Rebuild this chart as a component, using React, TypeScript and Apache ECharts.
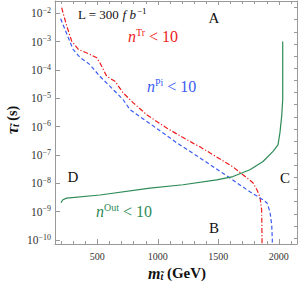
import React, { useEffect, useRef } from "react";
import * as echarts from "echarts";

const FONT = '"Liberation Serif", "Times New Roman", serif';

// axis ticks
const xMajorTicks = [500, 1000, 1500, 2000];
const xMinorTicks = [200, 300, 400, 600, 700, 800, 900, 1100, 1200, 1300, 1400, 1600, 1700, 1800, 1900, 2100];
const yDecades = [-10, -9, -8, -7, -6, -5, -4, -3, -2];

// n^Tr < 10 (red, dash-dot): stop mass (GeV), log10(tau / s)
const massTr = [205, 247, 288, 343, 439, 495, 522, 577, 646, 712, 795, 908, 1073, 1290, 1348, 1621, 1737, 1786, 1819, 1844, 1858, 1861, 1862];
const logTauTr = [-1.8, -2.45, -2.98, -3.27, -3.45, -3.57, -3.75, -4.22, -4.4, -4.8, -5.15, -5.58, -6.05, -6.58, -6.71, -7.42, -7.81, -7.98, -8.23, -8.48, -8.94, -10.0, -10.4];

// n^Pi < 10 (blue, dashed)
const massPi = [197, 260, 299, 357, 439, 522, 605, 712, 770, 852, 935, 1156, 1348, 1596, 1761, 1869, 1902, 1927, 1941, 1946, 1947];
const logTauPi = [-2.19, -2.86, -3.27, -3.56, -3.81, -4.23, -4.58, -5.04, -5.4, -5.65, -5.89, -6.57, -7.1, -7.81, -8.3, -8.58, -8.69, -9.01, -9.47, -10.0, -10.4];

// n^Out < 10 (green, solid)
const massOut = [200, 215, 247, 522, 935, 1208, 1486, 1621, 1761, 1869, 1952, 1993, 2009, 2024, 2032, 2032];
const logTauOut = [-8.68, -8.58, -8.52, -8.41, -8.17, -8.05, -7.88, -7.76, -7.52, -7.23, -6.87, -6.64, -6.21, -5.6, -5.04, -2.99];

const X_MIN = 150;
const X_MAX = 2150;
const Y_MIN = -10.14;
const Y_MAX = -1.565;

const AXIS_GRAY = "#999999";
const LABEL = "#333333";
const RED = "#ee1c1c";
const BLUE = "#3b5cf2";
const GREEN = "#2e8b57";

const pairs = (xs: number[], ys: number[]) => xs.map((x, i) => [x, ys[i]]);

export default function App() {
  const ref = useRef<HTMLDivElement>(null);

  useEffect(() => {
    if (!ref.current) return;
    const chart = echarts.init(ref.current, undefined, { renderer: "svg" });

    const rightTicks: number[] = [];
    for (let k = 0; k < 30; k++) {
      const v = -9.93 + k * 0.428;
      if (v < Y_MAX - 0.1) rightTicks.push(v);
    }

    const baseX = {
      type: "value" as const,
      min: X_MIN,
      max: X_MAX,
      gridIndex: 0,
      splitLine: { show: false },
    };
    const baseY = {
      type: "value" as const,
      min: Y_MIN,
      max: Y_MAX,
      gridIndex: 0,
      splitLine: { show: false },
    };

    const option: any = {
      animation: false,
      grid: { left: 55, right: 3, top: 1, bottom: 46, containLabel: false, outerBoundsMode: "none" },
      xAxis: [
        {
          ...baseX,
          position: "bottom",
          axisLine: { show: true, onZero: false, lineStyle: { color: AXIS_GRAY, width: 1 } },
          axisTick: { show: true, inside: true, length: 5, customValues: xMajorTicks, lineStyle: { color: AXIS_GRAY } },
          axisLabel: {
            show: true,
            customValues: xMajorTicks,
            margin: 7,
            formatter: (v: number) => String(v),
            fontFamily: FONT,
            fontSize: 10,
            color: LABEL,
          },
        },
        {
          ...baseX,
          position: "bottom",
          axisLine: { show: false, onZero: false },
          axisTick: { show: true, inside: true, length: 3, customValues: xMinorTicks, lineStyle: { color: AXIS_GRAY } },
          axisLabel: { show: false },
        },
        {
          ...baseX,
          position: "top",
          axisLine: { show: true, onZero: false, lineStyle: { color: AXIS_GRAY, width: 1 } },
          axisTick: { show: true, inside: true, length: 4, customValues: xMajorTicks, lineStyle: { color: AXIS_GRAY } },
          axisLabel: { show: false },
        },
        {
          ...baseX,
          position: "top",
          axisLine: { show: false, onZero: false },
          axisTick: { show: true, inside: true, length: 3, customValues: xMinorTicks, lineStyle: { color: AXIS_GRAY } },
          axisLabel: { show: false },
        },
      ],
      yAxis: [
        {
          ...baseY,
          position: "left",
          axisLine: { show: true, onZero: false, lineStyle: { color: AXIS_GRAY, width: 1 } },
          axisTick: { show: true, inside: true, length: 5, customValues: yDecades, lineStyle: { color: AXIS_GRAY } },
          axisLabel: {
            show: true,
            customValues: yDecades,
            margin: 4,
            formatter: (v: number) => `{b|10}{e|\u2212${Math.round(-v)}}`,
            rich: {
              b: { fontFamily: FONT, fontSize: 11.5, color: LABEL },
              e: { fontFamily: FONT, fontSize: 8, color: LABEL, padding: [0, 0, 6, 0] },
            },
          },
        },
        {
          ...baseY,
          position: "right",
          axisLine: { show: true, onZero: false, lineStyle: { color: AXIS_GRAY, width: 1 } },
          axisTick: { show: true, inside: true, length: 3, customValues: rightTicks, lineStyle: { color: AXIS_GRAY } },
          axisLabel: { show: false },
        },
      ],
      series: [
        {
          name: "Tr",
          type: "line",
          xAxisIndex: 0,
          yAxisIndex: 0,
          data: pairs(massTr, logTauTr),
          symbol: "none",
          clip: true,
          lineStyle: { color: RED, width: 1.2, type: [5, 2, 1.2, 2] },
        },
        {
          name: "Pi",
          type: "line",
          xAxisIndex: 0,
          yAxisIndex: 0,
          data: pairs(massPi, logTauPi),
          symbol: "none",
          clip: true,
          lineStyle: { color: BLUE, width: 1.2, type: [4, 2.5] },
        },
        {
          name: "Out",
          type: "line",
          xAxisIndex: 0,
          yAxisIndex: 0,
          data: pairs(massOut, logTauOut),
          symbol: "none",
          clip: true,
          lineStyle: { color: GREEN, width: 1.2 },
        },
      ],
      graphic: [
        {
          type: "text",
          x: 78,
          y: 14,
          style: {
            text: "{a|L = 300 }{i|f b}{s|\u22121}",
            align: "left",
            verticalAlign: "middle",
            rich: {
              a: { fontFamily: FONT, fontSize: 13, fill: "#111" },
              i: { fontFamily: FONT, fontSize: 13, fontStyle: "italic", fill: "#111" },
              s: { fontFamily: FONT, fontSize: 9, fill: "#111", padding: [0, 0, 7, 1] },
            },
          },
        },
        {
          type: "text",
          x: 214,
          y: 18,
          style: { text: "A", align: "center", verticalAlign: "middle", fontFamily: FONT, fontSize: 15, fill: "#111" },
        },
        {
          type: "text",
          x: 73,
          y: 177,
          style: { text: "D", align: "center", verticalAlign: "middle", fontFamily: FONT, fontSize: 15, fill: "#111" },
        },
        {
          type: "text",
          x: 285,
          y: 178,
          style: { text: "C", align: "center", verticalAlign: "middle", fontFamily: FONT, fontSize: 15, fill: "#111" },
        },
        {
          type: "text",
          x: 214,
          y: 228,
          style: { text: "B", align: "center", verticalAlign: "middle", fontFamily: FONT, fontSize: 15, fill: "#111" },
        },
        {
          type: "text",
          x: 128,
          y: 36,
          style: {
            text: "{n|n}{s|Tr}{r| < 10}",
            align: "left",
            verticalAlign: "middle",
            rich: {
              n: { fontFamily: FONT, fontSize: 16, fontStyle: "italic", fill: RED },
              s: { fontFamily: FONT, fontSize: 10, fill: RED, padding: [0, 0, 8, 0] },
              r: { fontFamily: FONT, fontSize: 16, fill: RED },
            },
          },
        },
        {
          type: "text",
          x: 147,
          y: 86,
          style: {
            text: "{n|n}{s|Pi}{r| < 10}",
            align: "left",
            verticalAlign: "middle",
            rich: {
              n: { fontFamily: FONT, fontSize: 16, fontStyle: "italic", fill: BLUE },
              s: { fontFamily: FONT, fontSize: 10, fill: BLUE, padding: [0, 0, 8, 0] },
              r: { fontFamily: FONT, fontSize: 16, fill: BLUE },
            },
          },
        },
        {
          type: "text",
          x: 96,
          y: 211,
          style: {
            text: "{n|n}{s|Out}{r| < 10}",
            align: "left",
            verticalAlign: "middle",
            rich: {
              n: { fontFamily: FONT, fontSize: 16, fontStyle: "italic", fill: GREEN },
              s: { fontFamily: FONT, fontSize: 10, fill: GREEN, padding: [0, 0, 8, 0] },
              r: { fontFamily: FONT, fontSize: 16, fill: GREEN },
            },
          },
        },
        {
          type: "text",
          x: 177,
          y: 273,
          style: {
            text: "{m|m}{s|t\u0303}{p| (GeV)}",
            align: "center",
            verticalAlign: "middle",
            rich: {
              m: { fontFamily: FONT, fontSize: 16, fontWeight: "bold", fontStyle: "italic", fill: "#111" },
              s: { fontFamily: FONT, fontSize: 10, fontWeight: "bold", fontStyle: "italic", fill: "#111", padding: [6, 0, 0, 0] },
              p: { fontFamily: FONT, fontSize: 15, fontWeight: "bold", fill: "#111" },
            },
          },
        },
        {
          type: "text",
          x: 12,
          y: 120,
          rotation: Math.PI / 2,
          style: {
            text: "{t|\u03c4}{s|t\u0303}{p| (s)}",
            align: "center",
            verticalAlign: "middle",
            rich: {
              t: { fontFamily: FONT, fontSize: 16, fontWeight: "bold", fontStyle: "italic", fill: "#111" },
              s: { fontFamily: FONT, fontSize: 10, fontWeight: "bold", fontStyle: "italic", fill: "#111", padding: [6, 0, 0, 0] },
              p: { fontFamily: FONT, fontSize: 14, fontWeight: "bold", fill: "#111" },
            },
          },
        },
      ],
    };

    chart.setOption(option);
    return () => chart.dispose();
  }, []);

  return (
    <div
      ref={ref}
      style={{ position: "fixed", left: 0, top: 0, width: 300, height: 290, background: "#fff" }}
    />
  );
}
